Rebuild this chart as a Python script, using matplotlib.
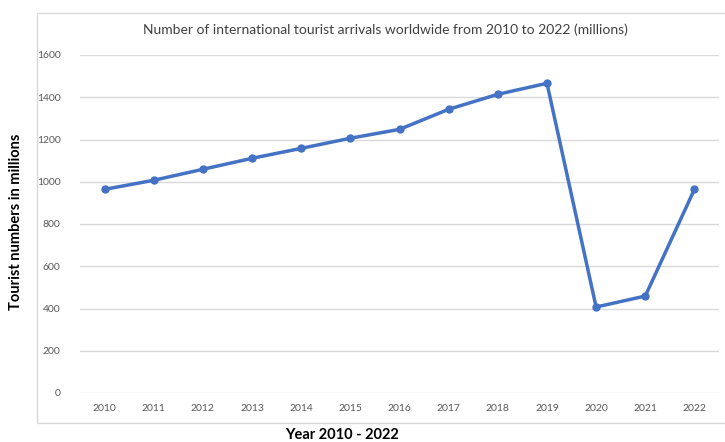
import matplotlib.pyplot as plt
from matplotlib.patches import Rectangle

years = ['2010', '2011', '2012', '2013', '2014', '2015', '2016',
         '2017', '2018', '2019', '2020', '2021', '2022']
arrivals = [964, 1007, 1059, 1111, 1158, 1206, 1248,
            1343, 1414, 1466, 407, 459, 964]
y_ticks = [0, 200, 400, 600, 800, 1000, 1200, 1400, 1600]

plt.rcParams['font.family'] = ['Lato', 'DejaVu Sans']

fig = plt.figure(figsize=(7.25, 4.42), dpi=100)
fig.patch.set_facecolor('white')

# chart area border (Excel style)
fig.patches.append(Rectangle((37 / 725, 1 - 423 / 442), 1.0, (423 - 13) / 442,
                             transform=fig.transFigure, fill=False,
                             edgecolor='#d9d9d9', linewidth=1.0))

ax = fig.add_axes([80 / 725, 1 - 393 / 442, (719 - 80) / 725, (393 - 55) / 442])
x = list(range(len(years)))
ax.plot(x, arrivals, color='#4472C4', linewidth=2.5, marker='o',
        markersize=5, zorder=3)

ax.set_xlim(-0.5, len(years) - 0.5)
ax.set_ylim(0, 1600)
ax.set_yticks(y_ticks)
ax.set_xticks(x)
ax.set_xticklabels(years)
ax.grid(axis='y', color='#d9d9d9', linewidth=1.0)
ax.set_axisbelow(True)
for s in ax.spines.values():
    s.set_visible(False)
ax.tick_params(length=0, labelsize=7.5, labelcolor='#595959')
ax.tick_params(axis='y', pad=14)
ax.tick_params(axis='x', pad=8)

fig.text(385 / 725, 1 - 30 / 442,
         'Number of international tourist arrivals worldwide from 2010 to 2022 (millions)',
         ha='center', va='center', fontsize=10, color='#404040')
fig.text(16 / 725, 1 - 222 / 442, 'Tourist numbers in millions',
         rotation=90, ha='center', va='center', fontsize=10.5,
         fontweight='bold', color='#000000')
fig.text(342 / 725, 1 - 435 / 442, 'Year 2010 - 2022',
         ha='center', va='center', fontsize=10.5, fontweight='bold',
         color='#000000')

fig.savefig('out.png', dpi=100)
